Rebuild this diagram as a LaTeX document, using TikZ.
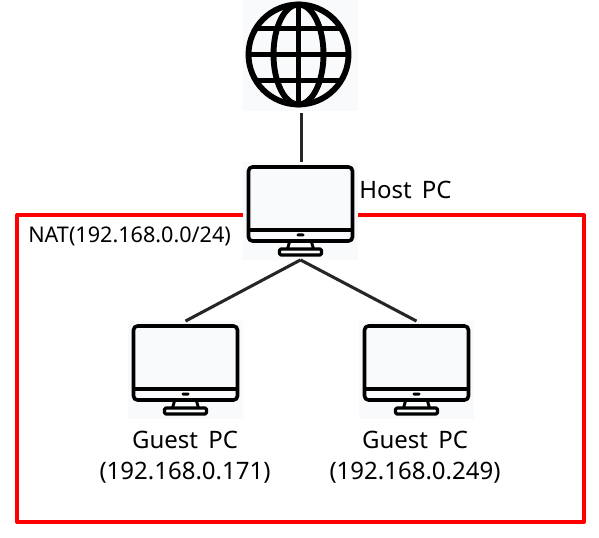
\documentclass[tikz,border=0pt]{standalone}
\usepackage{fontspec}
\setmainfont{Noto Sans}
\usepackage{xcolor}
\usetikzlibrary{positioning}
\definecolor{netInk}{HTML}{000000}
\definecolor{netLine}{HTML}{262626}
\definecolor{netZone}{HTML}{FF0000}
\definecolor{netIconBg}{HTML}{F9FAFC}
\tikzset{
  net diagram/.style={x=0.75pt, y=-0.75pt, line cap=butt, line join=round},
  net icon/.style={fill=netIconBg, inner sep=0pt, minimum width=86.25pt, minimum height=73pt},
  net link/.style={draw=netLine, line width=2.3pt},
  net zone/.style={draw=netZone, line width=3pt},
  net label/.style={font=\fontsize{18pt}{23pt}\selectfont, text=netInk, align=center, inner sep=0pt},
  net small label/.style={font=\fontsize{16.2pt}{20pt}\selectfont, text=netInk, inner sep=0pt},
  monitor/.pic={
    \draw[netInk, line width=2.7pt, rounded corners=3pt] (-52,-44) rectangle (52,30);
    \draw[netInk, line width=2.4pt] (-52,19) -- (52,19);
    \fill[netInk, rounded corners=1pt] (-4,22.5) rectangle (4,25.5);
    \draw[netInk, line width=2.2pt] (-11,31) -- (-13,38) (11,31) -- (13,38);
    \draw[netInk, line width=2.4pt, rounded corners=1pt] (-21,38) rectangle (21,44);
  }
}
\begin{document}
\begin{tikzpicture}[net diagram]
\useasboundingbox (0,0) rectangle (599,538);
\fill[white] (0,0) rectangle (599,538);
\coordinate (zone a) at (17,215);
\coordinate (zone b) at (584,522);
\draw[net zone] (zone a) rectangle (zone b);
\node[net icon, minimum height=83pt] (globe) at (300.5,55.5) {};
\node[net icon] (host) at (300.5,211) {};
\node[net icon] (guest one) at (185.5,370) {};
\node[net icon] (guest two) at (416.5,370) {};
% globe
\begin{scope}[shift={(298.5,54.5)}, netInk, line width=4.4pt]
  \begin{scope}
    \clip (0,0) circle (50);
    \draw (-52,-26) -- (52,-26) (-52,0) -- (52,0) (-52,26) -- (52,26);
  \end{scope}
  \draw (0,0) circle (50);
  \draw (0,0) ellipse (25 and 50);
  \draw (0,-50) -- (0,50);
\end{scope}
\pic at (host) {monitor};
\pic at (guest one) {monitor};
\pic at (guest two) {monitor};
\draw[net link] ([yshift=-1.5pt,xshift=0.4pt]globe.south) -- ([xshift=0.4pt]host.north);
\draw[net link] (host.south) -- (guest one.north);
\draw[net link] (host.south) -- (guest two.north);
\node[net label, anchor=west] (host label) at (359,190) {Host\, PC};
\node[net small label, anchor=west] (zone label) at (28,236) {NAT(192.168.0.0/24)};
\node[net label] (guest one label) at (185,457) {Guest\, PC\\(192.168.0.171)};
\node[net label] (guest two label) at (415,457) {Guest\, PC\\(192.168.0.249)};
\end{tikzpicture}
\end{document}
